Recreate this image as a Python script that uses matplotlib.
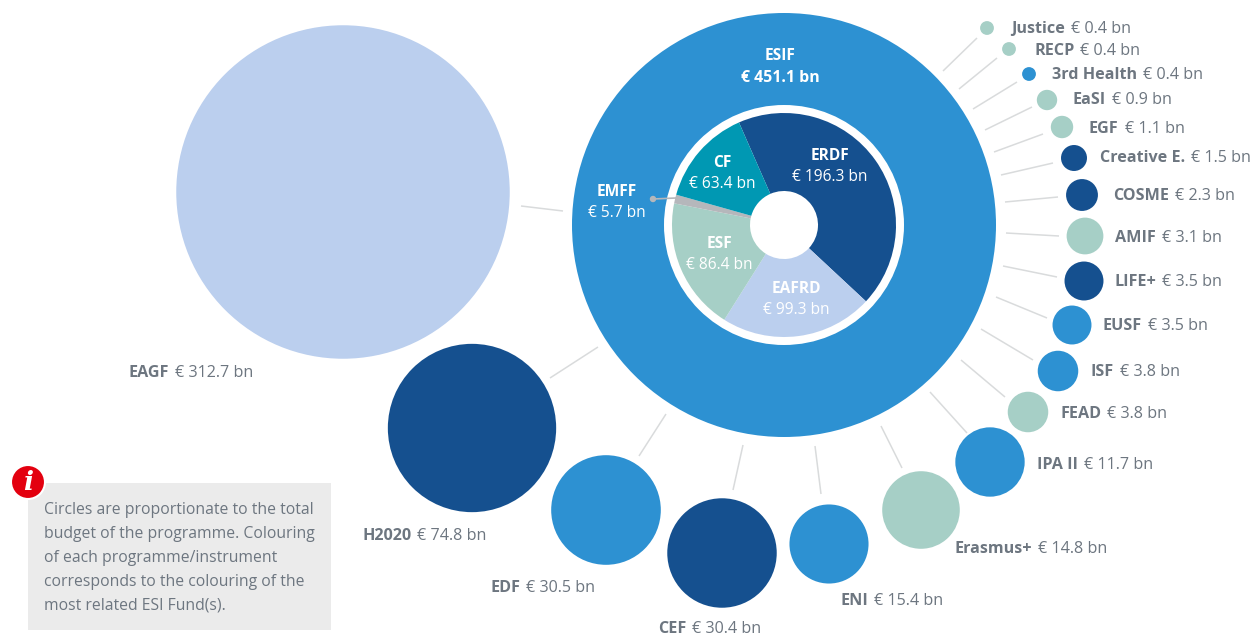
"""ESIF and other EU programme budgets drawn as a bubble map around a donut."""

import matplotlib
matplotlib.use("Agg")

import matplotlib.pyplot as plt
from matplotlib.patches import Circle, Rectangle

# ESI funds, clockwise from the top of the donut
fund_names = ["ERDF", "EAFRD", "ESF", "EMFF", "CF"]
fund_values = [196.3, 99.3, 86.4, 5.7, 63.4]

# programmes, clockwise from the top right
prog_names = ["Justice", "RECP", "3rd Health", "EaSI", "EGF", "Creative E.", "COSME",
              "AMIF", "LIFE+", "EUSF", "ISF", "FEAD", "IPA II", "Erasmus+", "ENI",
              "CEF", "EDF", "H2020", "EAGF"]
prog_values = [0.4, 0.4, 0.4, 0.9, 1.1, 1.5, 2.3, 3.1, 3.5, 3.5, 3.8, 3.8, 11.7,
               14.8, 15.4, 30.4, 30.5, 74.8, 312.7]
prog_funds = ["ESF", "ESF", "ESIF", "ESF", "ESF", "ERDF", "ERDF", "ESF", "ERDF",
              "ESIF", "ESIF", "ESF", "ESIF", "ESF", "ESIF", "ERDF", "ESIF", "ERDF", "EAFRD"]
esif_total = 451.1

note_lines = ["Circles are proportionate to the total",
              "budget of the programme. Colouring",
              "of each programme/instrument",
              "corresponds to the colouring of the",
              "most related ESI Fund(s)."]

COLOURS = {"ERDF": "#15508F", "ESIF": "#2D91D2", "EAFRD": "#BBCFEE", "ESF": "#A6CFC6",
           "CF": "#0098B3", "EMFF": "#B5B7BB"}
TEXT = "#6D7680"
LINE = "#D9DBDC"
FONT = "Open Sans"

# layout in picture pixels: bubble centres, label anchors and leader lines
bubble_xy = [(987, 28), (1009, 49), (1029, 74), (1047, 100), (1062, 127), (1074, 158),
             (1082, 195), (1085, 236), (1084, 281), (1072, 325), (1058, 371), (1028, 412),
             (990, 462), (921, 510), (829, 544), (722, 553), (606, 510), (472, 428), (343, 192)]
label_xy = [(1011, 28), (1034, 50), (1052, 74), (1073, 99), (1089, 128), (1100, 157),
            (1113, 195), (1115, 237), (1114, 281), (1103, 325), (1091, 371), (1060, 413),
            (1037, 464), (954, 548), (840, 600), (658, 628), (490, 587), (362, 535), (129, 372)]
leaders = [(943, 71, 977, 38), (959, 89, 997, 58), (973, 109, 1017, 82), (985, 130, 1032, 107),
           (994, 152, 1043, 134), (1001, 175, 1053, 163), (1005, 202, 1058, 197),
           (1006, 233, 1059, 236), (1003, 266, 1057, 277), (996, 297, 1047, 318),
           (981, 329, 1033, 360), (961, 360, 1005, 397), (930, 392, 967, 433),
           (881, 426, 902, 468), (815, 446, 821, 494), (743, 445, 733, 490),
           (666, 414, 639, 456), (598, 347, 550, 378), (521, 206, 563, 211)]
CENTRE = (784, 225)
ESIF_R = 212
RING_R = 120
PIE_R = 112
HOLE_R = 34


def bubble_radius(value):
    # fitted to the picture, the source is not strictly area-proportional
    return 10.7 * value ** 0.478


def label(ax, x, y, name, value, size=11.6):
    """Bold programme name followed by its regular-weight amount."""
    t = ax.text(x, y + 1, name, color=TEXT, fontsize=size, fontweight="bold", family=FONT,
                ha="left", va="center")
    ax.annotate(f"€ {value} bn", xy=(1, 0.5), xycoords=t, xytext=(6, 0),
                textcoords="offset pixels", color=TEXT, fontsize=size, family=FONT,
                ha="left", va="center")


fig = plt.figure(figsize=(12.52, 6.36), dpi=100)
ax = fig.add_axes([0, 0, 1, 1])

# note box sits behind everything
ax.add_patch(Rectangle((28, 483), 303, 147, facecolor="#EBEBEB", edgecolor="none"))
for i, line in enumerate(note_lines):
    ax.text(44, 510 + 24 * i, line, color=TEXT, fontsize=11.3, family=FONT, va="center")
ax.add_patch(Circle((28, 482), 17, facecolor="#E3000F", edgecolor="white", linewidth=1.5))
ax.text(28, 482, "i", color="white", fontsize=19, fontweight="bold", fontstyle="italic",
        family="DejaVu Serif", ha="center", va="center")

for x1, y1, x2, y2 in leaders:
    ax.plot([x1, x2], [y1, y2], color=LINE, linewidth=1.1, solid_capstyle="butt")

for (x, y), value, fund in zip(bubble_xy, prog_values, prog_funds):
    ax.add_patch(Circle((x, y), bubble_radius(value), facecolor=COLOURS[fund], edgecolor="none"))

for (x, y), name, value in zip(label_xy, prog_names, prog_values):
    label(ax, x, y, name, value)

# ESIF ring with the fund split inside it
ax.add_patch(Circle(CENTRE, ESIF_R, facecolor=COLOURS["ESIF"], edgecolor="none"))
ax.add_patch(Circle(CENTRE, RING_R, facecolor="white", edgecolor="none"))
# y axis points down here, so a counterclockwise pie reads clockwise on the page
ax.pie(fund_values, colors=[COLOURS[n] for n in fund_names], center=CENTRE, radius=PIE_R,
       startangle=-113.7, counterclock=True,
       wedgeprops={"width": PIE_R - HOLE_R, "edgecolor": "none"})

ax.plot([653, 676], [199, 198], color=COLOURS["EMFF"], linewidth=1.2)
ax.add_patch(Circle((653, 199), 3.2, facecolor=COLOURS["EMFF"], edgecolor="none"))

ax.text(780, 56, "ESIF", color="white", fontsize=11.2, fontweight="bold", family=FONT,
        ha="center", va="center")
ax.text(780, 78, f"€ {esif_total} bn", color="white", fontsize=11.4, fontweight="bold",
        family=FONT, ha="center", va="center")

inner_xy = {"ERDF": (830, 156), "EAFRD": (796, 289), "ESF": (719, 244), "EMFF": (617, 192),
            "CF": (722, 163)}
for name, value in zip(fund_names, fund_values):
    x, y = inner_xy[name]
    ax.text(x, y, name, color="white", fontsize=11.2, fontweight="bold", family=FONT,
            ha="center", va="center")
    ax.text(x, y + 21, f"€ {value} bn", color="white", fontsize=11.2, family=FONT,
            ha="center", va="center")

ax.set_xlim(0, 1252)
ax.set_ylim(636, 0)
ax.set_axis_off()

fig.savefig("out.png", dpi=100)
